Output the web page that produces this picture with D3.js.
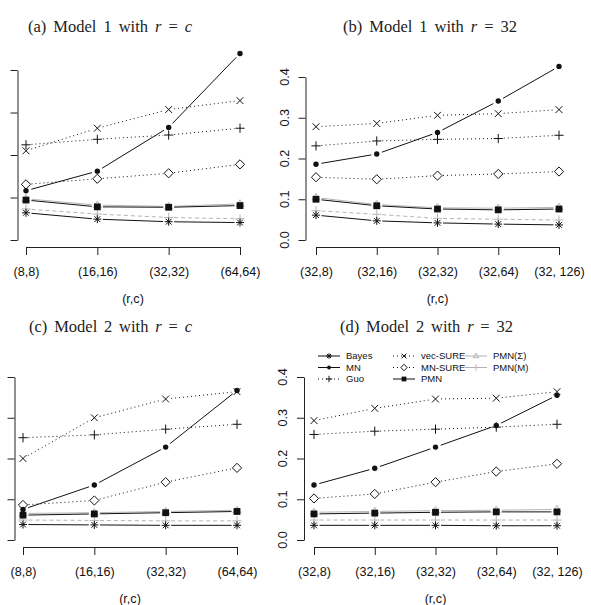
<!DOCTYPE html>
<html><head><meta charset="utf-8">
<script src="https://cdn.jsdelivr.net/npm/d3@7/dist/d3.min.js"></script>
<style>
html,body{margin:0;padding:0;background:#fff;}
svg{display:block;}
</style></head>
<body>
<svg id="chart" width="591" height="605"></svg>
<script>
// ---------- data ----------
const catsRC  = ["(8,8)", "(16,16)", "(32,32)", "(64,64)"];
const catsR32 = ["(32,8)", "(32,16)", "(32,32)", "(32,64)", "(32, 126)"];
const methods = ["Bayes", "MN", "Guo", "vec-SURE", "MN-SURE", "PMN", "PMN(Σ)", "PMN(M)"];
const yTicks  = [0.0, 0.1, 0.2, 0.3, 0.4];

// (a) Model 1 with r = c
const valsA = {
  "Bayes":    [0.064, 0.049, 0.043, 0.041],
  "MN":       [0.116, 0.162, 0.265, 0.439],
  "Guo":      [0.224, 0.237, 0.247, 0.263],
  "vec-SURE": [0.210, 0.263, 0.307, 0.328],
  "MN-SURE":  [0.131, 0.144, 0.157, 0.178],
  "PMN":      [0.094, 0.078, 0.077, 0.081],
  "PMN(Σ)":   [0.097, 0.082, 0.079, 0.085],
  "PMN(M)":   [0.073, 0.061, 0.053, 0.050]
};
// (b) Model 1 with r = 32
const valsB = {
  "Bayes":    [0.061, 0.047, 0.042, 0.039, 0.037],
  "MN":       [0.186, 0.211, 0.264, 0.341, 0.426],
  "Guo":      [0.231, 0.243, 0.247, 0.249, 0.257],
  "vec-SURE": [0.278, 0.286, 0.306, 0.310, 0.320],
  "MN-SURE":  [0.154, 0.149, 0.158, 0.162, 0.168],
  "PMN":      [0.100, 0.084, 0.076, 0.074, 0.076],
  "PMN(Σ)":   [0.104, 0.087, 0.079, 0.078, 0.080],
  "PMN(M)":   [0.072, 0.063, 0.053, 0.051, 0.049]
};
// (c) Model 2 with r = c
const valsC = {
  "Bayes":    [0.038, 0.037, 0.036, 0.036],
  "MN":       [0.075, 0.135, 0.228, 0.367],
  "Guo":      [0.251, 0.258, 0.272, 0.284],
  "vec-SURE": [0.200, 0.300, 0.346, 0.364],
  "MN-SURE":  [0.086, 0.097, 0.142, 0.177],
  "PMN":      [0.061, 0.064, 0.067, 0.070],
  "PMN(Σ)":   [0.065, 0.067, 0.070, 0.073],
  "PMN(M)":   [0.049, 0.048, 0.047, 0.047]
};
// (d) Model 2 with r = 32
const valsD = {
  "Bayes":    [0.036, 0.036, 0.036, 0.035, 0.035],
  "MN":       [0.135, 0.176, 0.228, 0.281, 0.355],
  "Guo":      [0.259, 0.267, 0.272, 0.277, 0.284],
  "vec-SURE": [0.293, 0.323, 0.346, 0.348, 0.364],
  "MN-SURE":  [0.102, 0.113, 0.142, 0.168, 0.187],
  "PMN":      [0.064, 0.066, 0.068, 0.069, 0.069],
  "PMN(Σ)":   [0.068, 0.070, 0.072, 0.073, 0.075],
  "PMN(M)":   [0.049, 0.049, 0.049, 0.049, 0.049]
};

// ---------- styles ----------
const GREY = "#b4b4b4";
const INK = "#111";
const style = {
  "Bayes":    {pch: "asterisk", color: INK,  dash: null},
  "MN":       {pch: "circle",   color: INK,  dash: null},
  "Guo":      {pch: "plus",     color: INK,  dash: "1,3"},
  "vec-SURE": {pch: "cross",    color: INK,  dash: "1,3"},
  "MN-SURE":  {pch: "diamond",  color: INK,  dash: "1,3"},
  "PMN":      {pch: "square",   color: INK,  dash: null},
  "PMN(Σ)":   {pch: "triangle", color: GREY, dash: null},
  "PMN(M)":   {pch: "plus",     color: GREY, dash: "4,3"}
};
const drawOrder = ["PMN(Σ)", "PMN(M)", "MN-SURE", "Guo", "vec-SURE", "MN", "PMN", "Bayes"];

const panels = [
  {id:"a", model:"1", rhs:"c",  cats:catsRC,  vals:valsA, x0:26,  x1:240, yZero:240, yTop:70,  axisX:17.5, axisY:247, titleX:28,  titleW:164, titleY:32,  yLabels:false},
  {id:"b", model:"1", rhs:"32", cats:catsR32, vals:valsB, x0:316, x1:559, yZero:240, yTop:77,  axisX:305.5,axisY:247, titleX:343, titleW:174, titleY:32,  yLabels:true},
  {id:"c", model:"2", rhs:"c",  cats:catsRC,  vals:valsC, x0:23,  x1:237, yZero:540, yTop:377, axisX:14.5, axisY:547, titleX:29,  titleW:163, titleY:332, yLabels:false},
  {id:"d", model:"2", rhs:"32", cats:catsR32, vals:valsD, x0:314, x1:557, yZero:540, yTop:377, axisX:304,  axisY:547, titleX:340, titleW:173, titleY:332, yLabels:true, legend:true}
];

const svg = d3.select("#chart");
const SANS = "'Liberation Sans', Arial, Helvetica, sans-serif";
const SERIF = "'Liberation Serif', 'Times New Roman', serif";

function marker(g, pch, x, y, color, s) {
  s = s || 1;
  const sw = 1;
  if (pch === "asterisk") {
    const h = 4*s, d = 2.9*s;
    g.append("path").attr("d", `M${x-h},${y}L${x+h},${y}M${x},${y-h}L${x},${y+h}M${x-d},${y-d}L${x+d},${y+d}M${x-d},${y+d}L${x+d},${y-d}`)
      .attr("stroke", color).attr("stroke-width", sw).attr("fill", "none");
  } else if (pch === "circle") {
    g.append("circle").attr("cx", x).attr("cy", y).attr("r", 2.7*s).attr("fill", color);
  } else if (pch === "plus") {
    const h = 4.6*s;
    g.append("path").attr("d", `M${x-h},${y}L${x+h},${y}M${x},${y-h}L${x},${y+h}`)
      .attr("stroke", color).attr("stroke-width", sw).attr("fill", "none");
  } else if (pch === "cross") {
    const h = 3.4*s;
    g.append("path").attr("d", `M${x-h},${y-h}L${x+h},${y+h}M${x-h},${y+h}L${x+h},${y-h}`)
      .attr("stroke", color).attr("stroke-width", sw).attr("fill", "none");
  } else if (pch === "diamond") {
    const h = 4.6*s;
    g.append("path").attr("d", `M${x},${y-h}L${x+h},${y}L${x},${y+h}L${x-h},${y}Z`)
      .attr("stroke", color).attr("stroke-width", sw).attr("fill", "#fff");
  } else if (pch === "square") {
    const h = 3.4*s;
    g.append("rect").attr("x", x-h).attr("y", y-h).attr("width", 2*h).attr("height", 2*h).attr("fill", color);
  } else if (pch === "triangle") {
    const h = 4.2*s;
    g.append("path").attr("d", `M${x},${y-h}L${x+h*0.95},${y+h*0.6}L${x-h*0.95},${y+h*0.6}Z`)
      .attr("stroke", color).attr("stroke-width", sw).attr("fill", "none");
  }
}

function gappedSegments(pts, gap) {
  const segs = [];
  for (let i = 0; i < pts.length - 1; i++) {
    const [xa, ya] = pts[i], [xb, yb] = pts[i+1];
    const dx = xb - xa, dy = yb - ya, L = Math.hypot(dx, dy);
    if (L <= 2*gap) continue;
    const ux = dx / L, uy = dy / L;
    segs.push([[xa + ux*gap, ya + uy*gap], [xb - ux*gap, yb - uy*gap]]);
  }
  return segs;
}

panels.forEach(p => {
  const g = svg.append("g").attr("class", "panel-" + p.id);
  const x = d3.scalePoint().domain(p.cats).range([p.x0, p.x1]);
  const y = d3.scaleLinear().domain([0, 0.4]).range([p.yZero, p.yTop]);

  // title (serif, math parts italic); widen word gaps to match target width
  const t = g.append("text").attr("x", p.titleX).attr("y", p.titleY)
    .attr("font-family", SERIF).attr("font-size", 16.5).attr("fill", "#222");
  t.append("tspan").text(`(${p.id}) Model ${p.model} with `);
  t.append("tspan").attr("font-style", "italic").text("r");
  t.append("tspan").text(" = ");
  if (p.rhs === "c") t.append("tspan").attr("font-style", "italic").text("c");
  else t.append("tspan").text(p.rhs);
  const natural = t.node().getComputedTextLength();
  const extra = (p.titleW - natural) / 6;
  if (extra > 0) t.attr("word-spacing", extra.toFixed(2));

  // x axis
  const xa = g.append("g").attr("transform", `translate(0,${p.axisY})`)
    .call(d3.axisBottom(x).tickSizeInner(8).tickSizeOuter(0).tickPadding(12));
  xa.selectAll("path,line").attr("stroke", "#222");
  xa.selectAll("text").attr("font-family", SANS).attr("font-size", 12.6).attr("fill", "#111");

  // y axis
  const ya = g.append("g").attr("transform", `translate(${p.axisX},0)`)
    .call(d3.axisLeft(y).tickValues(yTicks).tickSizeInner(7).tickSizeOuter(0).tickFormat(""));
  ya.selectAll("path,line").attr("stroke", "#222");

  if (p.yLabels) {
    g.selectAll("text.ylab").data(yTicks).enter().append("text")
      .attr("class", "ylab")
      .attr("transform", d => `translate(${p.axisX - 17},${y(d)}) rotate(-90)`)
      .attr("text-anchor", "middle")
      .attr("font-family", SANS).attr("font-size", 12.6).attr("fill", "#111")
      .text(d => d3.format(".1f")(d));
  }

  // x label
  g.append("text").attr("x", (p.x0 + p.x1) / 2).attr("y", p.axisY + 56)
    .attr("text-anchor", "middle").attr("font-family", SANS).attr("font-size", 12.6).attr("fill", "#111")
    .text("(r,c)");

  // series
  drawOrder.forEach(m => {
    const st = style[m];
    const pts = p.vals[m].map((v, i) => [x(p.cats[i]), y(v)]);
    const lg = g.append("g").attr("class", "series");
    gappedSegments(pts, 5.5).forEach(s => {
      lg.append("line").attr("x1", s[0][0]).attr("y1", s[0][1]).attr("x2", s[1][0]).attr("y2", s[1][1])
        .attr("stroke", st.color).attr("stroke-width", 1)
        .attr("stroke-dasharray", st.dash);
    });
    pts.forEach(pt => marker(lg, st.pch, pt[0], pt[1], st.color, 1));
  });

  // legend
  if (p.legend) {
    const colX = [318, 393, 465];
    const rowY = [356, 367.5, 379];
    const lg = g.append("g").attr("class", "legend");
    methods.forEach((m, i) => {
      const c = Math.floor(i / 3), r = i % 3;
      const st = style[m];
      const lx = colX[c], ly = rowY[r];
      lg.append("line").attr("x1", lx).attr("x2", lx + 22).attr("y1", ly).attr("y2", ly)
        .attr("stroke", st.color).attr("stroke-width", 1)
        .attr("stroke-dasharray", (m === "PMN(M)") ? null : st.dash);
      marker(lg, st.pch, lx + 11, ly, st.color, 0.7);
      lg.append("text").attr("x", lx + 28).attr("y", ly).attr("dy", "0.35em")
        .attr("font-family", SANS).attr("font-size", 9.5).attr("fill", "#111").text(m);
    });
  }
});
</script>
</body></html>
